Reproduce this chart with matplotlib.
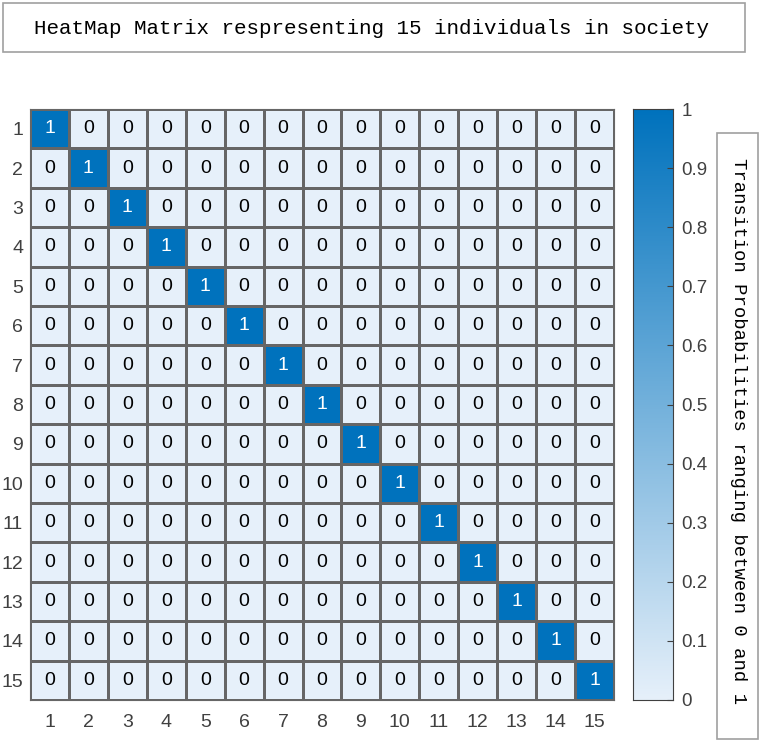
import numpy as np
import matplotlib.pyplot as plt
from matplotlib.colors import LinearSegmentedColormap
from matplotlib.patches import Rectangle

# 15 individuals, transition probabilities (identity matrix)
labels = [str(i) for i in range(1, 16)]
diag_values = [1] * 15
probs = np.diag(diag_values).astype(float)

title = "HeatMap Matrix respresenting 15 individuals in society"
cbar_label = "Transition Probabilities ranging between 0 and 1"
cbar_ticks = [0, 0.1, 0.2, 0.3, 0.4, 0.5, 0.6, 0.7, 0.8, 0.9, 1]

cmap = LinearSegmentedColormap.from_list("mblue", ["#E6F0FA", "#0072BD"])

fig = plt.figure(figsize=(7.62, 7.44), dpi=100)
W, H = 762, 744

ax = fig.add_axes([30 / W, 1 - 700 / H, 584 / W, 591 / H])
n = len(labels)
ax.pcolormesh(np.arange(n + 1), np.arange(n + 1), probs, cmap=cmap,
              vmin=0, vmax=1, edgecolor="#666666", linewidth=0.8)
ax.set_xlim(0, n)
ax.set_ylim(n, 0)
for i in range(n):
    for j in range(n):
        v = probs[i, j]
        ax.text(j + 0.5, i + 0.5, "%g" % v, ha="center", va="center",
                fontsize=14, family="Liberation Sans",
                color="white" if v > 0.5 else "black")

ax.set_xticks(np.arange(n) + 0.5)
ax.set_xticklabels(labels)
ax.set_yticks(np.arange(n) + 0.5)
ax.set_yticklabels(labels)
ax.tick_params(length=0, labelsize=14, labelcolor="#404040", pad=10)
for t in ax.get_xticklabels() + ax.get_yticklabels():
    t.set_family("Liberation Sans")
ax.tick_params(axis="y", pad=5)
for s in ax.spines.values():
    s.set_color("#666666")

# colorbar
cax = fig.add_axes([633 / W, 1 - 700 / H, 40 / W, 591 / H])
grad = np.linspace(0, 1, 256).reshape(-1, 1)
cax.imshow(grad, aspect="auto", cmap=cmap, origin="lower",
           extent=[0, 1, 0, 1], vmin=0, vmax=1)
cax.set_xticks([])
cax.yaxis.tick_right()
cax.set_yticks(cbar_ticks)
cax.set_yticklabels(["%g" % t for t in cbar_ticks])
cax.tick_params(axis="y", direction="in", length=4, labelsize=13.5,
                labelcolor="#404040", color="#404040", pad=6)
for t in cax.get_yticklabels():
    t.set_family("Liberation Sans")
for s in cax.spines.values():
    s.set_color("#404040")

# title box
fig.patches.append(Rectangle((3 / W, 1 - 52 / H), 742 / W, 49 / H,
                             transform=fig.transFigure, fill=False,
                             edgecolor="#a0a0a0", linewidth=1.2))
fig.text(372 / W, 1 - 29 / H, title, ha="center", va="center",
         fontsize=15, family="Liberation Mono")

# colorbar label box
fig.patches.append(Rectangle((717 / W, 1 - 739 / H), 41 / W, 606 / H,
                             transform=fig.transFigure, fill=False,
                             edgecolor="#a0a0a0", linewidth=1.2))
fig.text(738 / W, 1 - 431 / H, cbar_label, ha="center", va="center",
         rotation=-90, fontsize=13.6, family="Liberation Mono")

fig.savefig("out.png", dpi=100)
